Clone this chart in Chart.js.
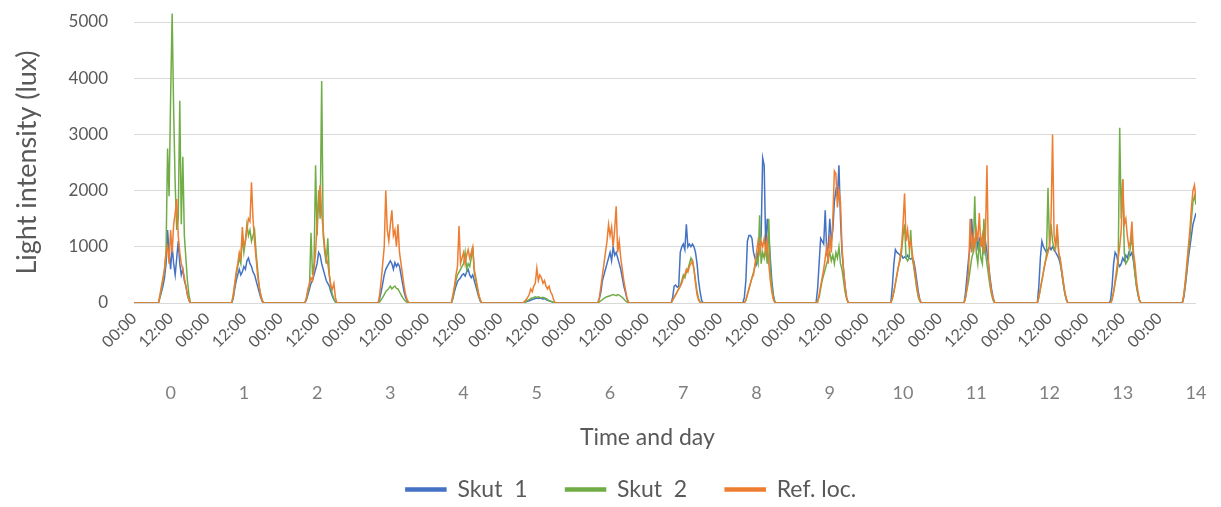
<!DOCTYPE html>
<html>
<head>
<meta charset="utf-8">
<script src="https://cdn.jsdelivr.net/npm/chart.js@4.4.1/dist/chart.umd.min.js"></script>
<style>
  html, body { margin: 0; padding: 0; background: #fff; }
  #wrap { width: 1221px; height: 507px; position: relative; }
</style>
</head>
<body>
<div id="wrap"><canvas id="lightChart"></canvas></div>
<script>
const COLORS = {
  blue: '#4472c4',
  green: '#70ad47',
  orange: '#ed7d31',
  grid: '#d9d9d9',
  text: '#595959'
};

// sample times (hour of day) for the daylight readings of each day
const dayHours = [8, 8.5, 9, 9.5, 10, 10.5, 11, 11.5, 12, 12.5, 13, 13.5, 14, 14.5, 15, 15.5, 16, 16.5, 17, 17.5, 18, 18.5];

const dayLabels = ['0', '1', '2', '3', '4', '5', '6', '7', '8', '9', '10', '11', '12', '13', '14'];
const timeLabels = ['00:00', '12:00', '00:00', '12:00', '00:00', '12:00', '00:00', '12:00', '00:00', '12:00',
  '00:00', '12:00', '00:00', '12:00', '00:00', '12:00', '00:00', '12:00', '00:00', '12:00',
  '00:00', '12:00', '00:00', '12:00', '00:00', '12:00', '00:00', '12:00', '00:00'];

// Skut 1, lux, one row per day
const skut1 = [
  [0, 100, 200, 300, 450, 700, 1300, 900, 600, 1000, 700, 500, 800, 1100, 700, 500, 600, 400, 300, 150, 50, 0],
  [0, 80, 250, 400, 500, 600, 500, 550, 650, 600, 750, 800, 700, 650, 550, 500, 400, 300, 200, 100, 30, 0],
  [0, 60, 150, 250, 350, 400, 500, 600, 700, 900, 850, 700, 600, 500, 400, 350, 300, 200, 120, 60, 20, 0],
  [0, 80, 200, 350, 500, 600, 650, 700, 750, 700, 600, 720, 650, 700, 650, 500, 350, 200, 100, 40, 0, 0],
  [0, 80, 200, 300, 380, 420, 450, 500, 520, 480, 550, 600, 500, 450, 500, 400, 300, 200, 100, 30, 0, 0],
  [10, 20, 30, 40, 50, 60, 70, 80, 90, 80, 90, 80, 70, 80, 60, 50, 40, 30, 20, 10, 0, 0],
  [0, 80, 200, 400, 500, 600, 700, 800, 900, 750, 1000, 850, 900, 800, 700, 600, 450, 300, 200, 80, 10, 0],
  [0, 100, 300, 320, 280, 300, 900, 1000, 1050, 950, 1400, 1000, 1050, 1000, 1050, 1000, 900, 700, 400, 200, 50, 0],
  [100, 400, 1100, 1200, 1200, 1150, 900, 800, 700, 900, 1000, 1200, 2580, 2450, 1000, 1500, 1200, 800, 400, 150, 20, 0],
  [250, 700, 1150, 1100, 1050, 1650, 900, 1000, 1500, 1100, 1300, 1800, 2000, 1900, 2450, 1500, 900, 600, 300, 100, 10, 0],
  [0, 300, 700, 950, 900, 880, 850, 850, 800, 820, 800, 850, 800, 780, 800, 750, 600, 400, 200, 60, 0, 0],
  [0, 200, 500, 800, 1000, 1500, 1000, 1100, 1200, 1000, 1150, 1100, 1000, 900, 1100, 900, 700, 450, 250, 100, 10, 0],
  [0, 300, 800, 1100, 1000, 950, 900, 950, 1000, 950, 1000, 950, 900, 850, 800, 700, 550, 350, 180, 60, 0, 0],
  [50, 300, 700, 900, 850, 700, 650, 700, 800, 750, 850, 800, 900, 850, 900, 750, 550, 300, 150, 40, 0, 0],
  [100, 300, 550, 800, 1000, 1200, 1400, 1500, 1600]
];

// Skut 2, lux
const skut2 = [
  [0, 100, 250, 400, 600, 900, 2750, 1900, 3650, 5150, 3400, 2100, 1300, 1500, 3600, 1400, 2600, 1200, 800, 400, 150, 0],
  [0, 100, 300, 500, 650, 800, 700, 1200, 900, 1100, 1400, 1200, 1300, 1100, 1200, 1300, 900, 600, 300, 150, 50, 0],
  [0, 80, 200, 300, 1250, 500, 700, 2450, 1200, 2000, 1500, 3950, 1200, 900, 700, 1150, 500, 300, 150, 80, 20, 0],
  [0, 20, 60, 100, 150, 200, 230, 260, 300, 250, 280, 300, 260, 250, 200, 150, 100, 60, 30, 10, 0, 0],
  [0, 100, 250, 400, 500, 550, 600, 650, 700, 900, 600, 700, 650, 800, 1000, 550, 400, 250, 120, 40, 0, 0],
  [10, 30, 50, 60, 80, 90, 100, 110, 100, 110, 100, 90, 100, 90, 80, 60, 40, 30, 20, 10, 0, 0],
  [0, 20, 40, 60, 80, 100, 110, 120, 130, 140, 150, 140, 130, 150, 140, 120, 100, 70, 40, 20, 0, 0],
  [0, 50, 100, 150, 200, 250, 300, 400, 500, 450, 550, 600, 700, 800, 750, 600, 400, 200, 80, 20, 0, 0],
  [0, 50, 150, 250, 350, 450, 550, 650, 800, 700, 1560, 700, 900, 800, 1000, 700, 1500, 600, 300, 100, 20, 0],
  [50, 100, 250, 400, 500, 600, 700, 800, 900, 750, 850, 700, 900, 800, 1000, 700, 600, 400, 200, 80, 10, 0],
  [0, 80, 200, 350, 500, 650, 750, 900, 1200, 1400, 800, 750, 800, 1300, 800, 650, 450, 250, 100, 30, 0, 0],
  [0, 100, 250, 400, 600, 800, 900, 1900, 900, 700, 1100, 800, 700, 1500, 900, 700, 500, 300, 150, 50, 0, 0],
  [0, 100, 250, 400, 550, 700, 850, 2050, 1000, 1400, 1100, 950, 1000, 1300, 900, 750, 550, 350, 180, 60, 0, 0],
  [0, 80, 200, 350, 500, 700, 3120, 1500, 2200, 900, 700, 750, 800, 1000, 1200, 800, 500, 300, 150, 40, 0, 0],
  [120, 350, 600, 900, 1150, 1500, 1800, 1900, 1750]
];

// Ref. loc., lux
const refLoc = [
  [0, 150, 300, 450, 600, 900, 1000, 700, 1300, 900, 1400, 1600, 1850, 1200, 900, 700, 600, 450, 300, 150, 50, 0],
  [0, 150, 350, 550, 700, 900, 800, 1350, 1000, 1100, 1300, 1500, 1450, 2150, 1500, 1100, 800, 500, 300, 150, 50, 0],
  [0, 100, 250, 350, 450, 400, 600, 900, 1400, 1800, 2100, 1600, 1300, 1000, 800, 700, 500, 300, 250, 350, 100, 0],
  [0, 150, 400, 700, 1000, 2000, 1300, 1100, 1400, 1650, 1200, 1300, 1000, 1400, 900, 700, 500, 300, 150, 60, 10, 0],
  [0, 150, 300, 500, 650, 1370, 700, 800, 900, 700, 850, 950, 800, 900, 1000, 600, 450, 300, 150, 50, 0, 0],
  [30, 60, 100, 150, 250, 200, 300, 350, 620, 400, 500, 450, 350, 400, 300, 250, 300, 200, 150, 60, 0, 0],
  [0, 100, 300, 500, 700, 900, 1100, 1400, 1200, 1350, 1000, 1300, 1720, 900, 1100, 800, 600, 400, 250, 100, 20, 0],
  [0, 50, 100, 150, 200, 250, 300, 350, 450, 500, 600, 550, 650, 700, 750, 600, 350, 150, 50, 10, 0, 0],
  [0, 50, 150, 250, 350, 450, 500, 700, 900, 1100, 900, 1100, 1000, 1150, 900, 1100, 700, 400, 200, 60, 10, 0],
  [0, 150, 300, 450, 600, 800, 1000, 700, 1200, 900, 1500, 2350, 2300, 1700, 2000, 1800, 1000, 600, 300, 100, 10, 0],
  [0, 80, 200, 350, 500, 650, 800, 1000, 1400, 1950, 1100, 1300, 1000, 1100, 900, 700, 500, 300, 150, 50, 0, 0],
  [0, 100, 300, 600, 1500, 900, 1200, 1000, 1300, 1100, 1600, 1000, 1200, 900, 1200, 2450, 700, 400, 200, 80, 10, 0],
  [0, 100, 250, 400, 550, 700, 800, 900, 1000, 1500, 3000, 1200, 1000, 1400, 900, 800, 600, 400, 200, 80, 10, 0],
  [0, 50, 200, 400, 600, 800, 1000, 1300, 2200, 1400, 1500, 1200, 1000, 1100, 1450, 900, 700, 400, 200, 50, 0, 0],
  [150, 400, 700, 1000, 1300, 1700, 2000, 2100, 1850]
];

// night readings are 0 lux: 00:00, 07:30 and 19:00 of each day
function toPoints(rows) {
  const pts = [];
  rows.forEach((row, d) => {
    const base = d * 24;
    pts.push({ x: base, y: 0 }, { x: base + 7.5, y: 0 });
    row.forEach((v, i) => pts.push({ x: base + dayHours[i], y: v }));
    if (row.length === dayHours.length) pts.push({ x: base + 19, y: 0 });
  });
  return pts;
}

function lineSet(label, rows, color, order) {
  return {
    label,
    data: toPoints(rows),
    borderColor: color,
    backgroundColor: color,
    borderWidth: 1.5,
    pointRadius: 0,
    tension: 0,
    clip: { left: 0, right: 0, bottom: 0, top: 12 },
    order
  };
}

function initChart() {
  Chart.defaults.font.family = "'Lato', 'Open Sans', sans-serif";
  Chart.defaults.color = COLORS.text;

  const lastHour = (dayLabels.length - 1) * 24 + 12;

  new Chart(document.getElementById('lightChart'), {
    type: 'line',
    data: {
      datasets: [
        lineSet('Skut  1', skut1, COLORS.blue, 3),
        lineSet('Skut  2', skut2, COLORS.green, 2),
        lineSet('Ref. loc.', refLoc, COLORS.orange, 1)
      ]
    },
    options: {
      responsive: true,
      maintainAspectRatio: false,
      animation: false,
      layout: { padding: { top: 22, right: 25, bottom: -4, left: 66 } },
      plugins: {
        tooltip: { enabled: false },
        legend: {
          position: 'bottom',
          labels: {
            boxWidth: 40,
            boxHeight: 3,
            padding: 38,
            color: COLORS.text,
            font: { size: 23 },
            sort: (a, b) => a.datasetIndex - b.datasetIndex
          }
        }
      },
      scales: {
        x: {
          type: 'linear',
          position: 'bottom',
          weight: 0,
          min: 0,
          max: lastHour,
          grid: { display: false, drawTicks: false },
          border: { display: false },
          afterBuildTicks: s => { s.ticks = timeLabels.map((_, i) => ({ value: i * 12 })); },
          afterFit: s => { s.height = 71; },
          ticks: {
            autoSkip: false,
            minRotation: 45,
            maxRotation: 45,
            padding: 6,
            font: { size: 16 },
            color: COLORS.text,
            callback: (v, i) => timeLabels[i]
          }
        },
        day: {
          type: 'linear',
          position: 'bottom',
          weight: 1,
          min: 0,
          max: lastHour,
          grid: { display: false, drawTicks: false },
          border: { display: false },
          afterBuildTicks: s => { s.ticks = dayLabels.map((_, i) => ({ value: i * 24 + 12 })); },
          afterFit: s => { s.height = 66; },
          ticks: {
            autoSkip: false,
            maxRotation: 0,
            padding: 8,
            font: { size: 18 },
            color: '#7f7f7f',
            callback: (v, i) => dayLabels[i]
          },
          title: {
            display: true,
            text: 'Time and day      ',
            color: COLORS.text,
            font: { size: 23 },
            padding: { top: 0, bottom: -11 }
          }
        },
        y: {
          min: 0,
          max: 5000,
          grid: { color: COLORS.grid, drawTicks: true, tickLength: 26, tickColor: 'rgba(0,0,0,0)' },
          border: { display: false },
          afterFit: s => { s.width = 68; },
          ticks: {
            stepSize: 1000,
            padding: 0,
            font: { size: 17 },
            color: COLORS.text,
            callback: v => String(v)
          },
          title: {
            display: true,
            text: 'Light intensity (lux)',
            color: COLORS.text,
            font: { size: 27 },
            padding: { top: -55, bottom: 0 }
          }
        }
      }
    }
  });
}

document.addEventListener('DOMContentLoaded', initChart);
</script>
</body>
</html>
